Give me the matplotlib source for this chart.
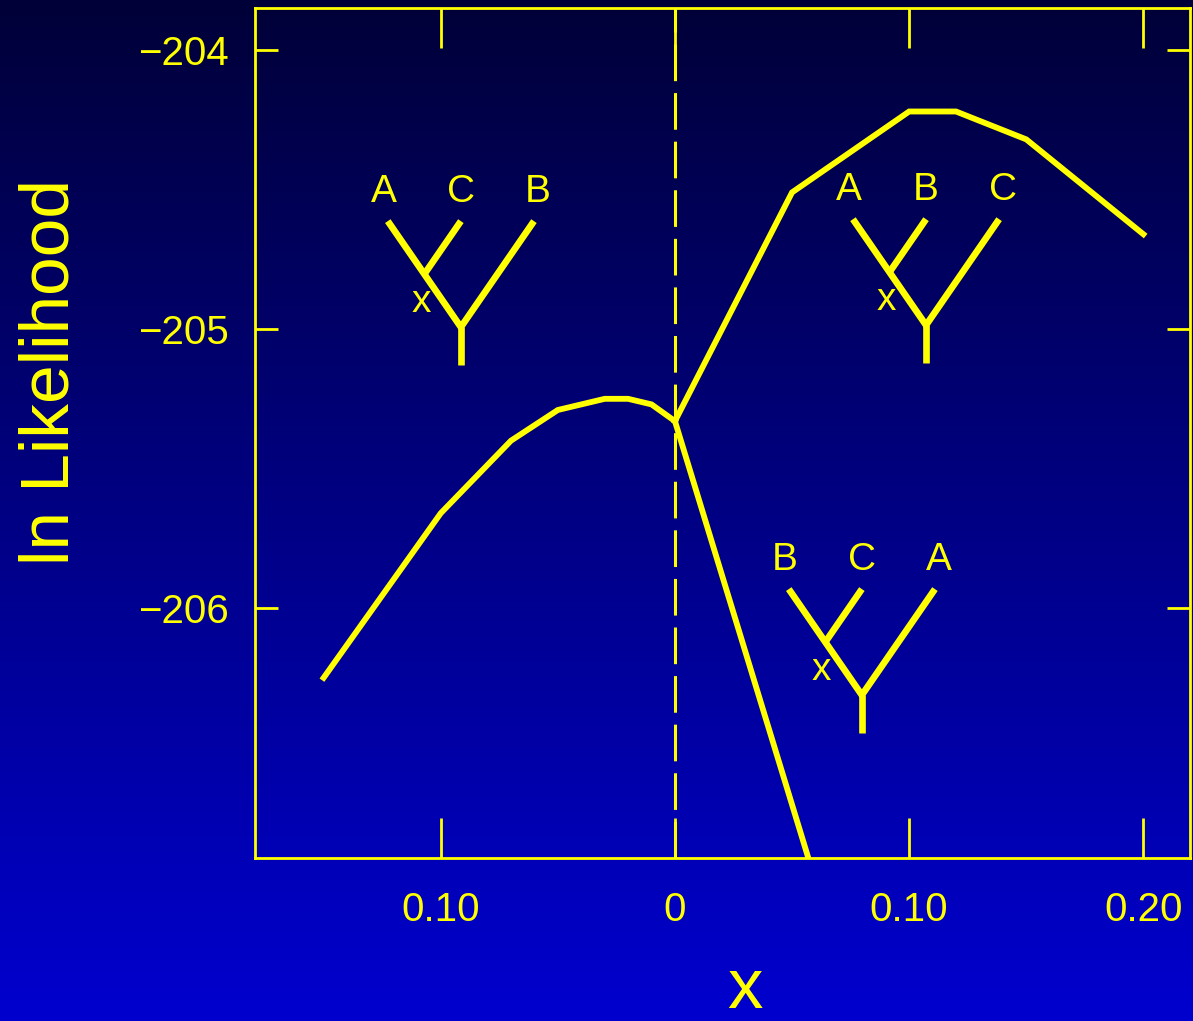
import numpy as np
import matplotlib
matplotlib.use("Agg")
import matplotlib.pyplot as plt

plt.rcParams['font.family'] = ['Liberation Sans', 'DejaVu Sans']

# data
left_x = [-0.15, -0.10, -0.07, -0.05, -0.03, -0.02, -0.01, 0.0]
left_y = [-206.25, -205.66, -205.40, -205.29, -205.25, -205.25, -205.27, -205.33]
upper_x = [0.0, 0.05, 0.10, 0.12, 0.15, 0.20]
upper_y = [-205.33, -204.51, -204.22, -204.22, -204.32, -204.66]
lower_x = [0.0, 0.06]
lower_y = [-205.33, -206.98]

xticks = [-0.10, 0.0, 0.10, 0.20]
xticklabels = ["0.10", "0", "0.10", "0.20"]
yticks = [-206, -205, -204]
yticklabels = ["\u2212206", "\u2212205", "\u2212204"]

# tree roots and leaf order
tree_roots = [(-0.0914, -204.993), (0.1072, -204.986), (0.0798, -206.312)]
tree_leaves = [("A", "C", "B"), ("A", "B", "C"), ("B", "C", "A")]

yellow = "#ffff00"

fig = plt.figure(figsize=(11.93, 10.21), dpi=100)

# gradient background
bg = fig.add_axes([0, 0, 1, 1], zorder=0)
grad = np.linspace(0, 1, 256).reshape(-1, 1)
img = np.zeros((256, 1, 3))
img[:, 0, 2] = 0.22 + (0.81 - 0.22) * grad[:, 0]
bg.imshow(img, aspect="auto", extent=[0, 1, 0, 1], origin="upper")
bg.axis("off")

ax = fig.add_axes([255 / 1193, 1 - 858 / 1021, 935 / 1193, 850 / 1021], zorder=1)
ax.set_facecolor("none")

ax.plot(left_x, left_y, color=yellow, lw=4.2, solid_joinstyle="miter")
ax.plot(upper_x, upper_y, color=yellow, lw=4.2, solid_joinstyle="miter")
ax.plot(lower_x, lower_y, color=yellow, lw=4.2, solid_joinstyle="miter")
ax.axvline(0, color=yellow, lw=2.2, dashes=(12, 3.9))

# little trees
for (rx, ry), (l1, l2, l3) in zip(tree_roots, tree_leaves):
    tw, th = 0.0312, 0.380
    ax.plot([rx - tw, rx, rx + tw], [ry + th, ry, ry + th], color=yellow, lw=4.8,
            solid_joinstyle="miter", solid_capstyle="butt")
    ax.plot([rx - tw / 2, rx], [ry + th / 2, ry + th], color=yellow, lw=4.8,
            solid_capstyle="butt")
    ax.plot([rx, rx], [ry, ry - 0.136], color=yellow, lw=4.8, solid_capstyle="butt")
    for dx, lab in zip([-0.033, 0.0, 0.033], [l1, l2, l3]):
        ax.text(rx + dx, ry + 0.484, lab, color=yellow, fontsize=28,
                ha="center", va="center")
    ax.text(rx - 0.0171, ry + 0.09, "x", color=yellow, fontsize=28,
            ha="center", va="center")

ax.set_xlim(-0.1793, 0.2199)
ax.set_ylim(-206.896, -203.849)

for s in ax.spines.values():
    s.set_color(yellow)
    s.set_linewidth(2.0)

ax.set_xticks(xticks)
ax.set_xticklabels(xticklabels)
ax.set_yticks(yticks)
ax.set_yticklabels(yticklabels)
ax.tick_params(axis="x", direction="in", length=29, width=2, color=yellow,
               labelcolor=yellow, labelsize=29, pad=24, top=True)
ax.tick_params(axis="y", direction="in", length=16.5, width=2, color=yellow,
               labelcolor=yellow, labelsize=29, pad=19, right=True)

fig.text(51 / 1193, 1 - 372 / 1021, "ln Likelihood", color=yellow, fontsize=50,
         rotation=90, ha="center", va="center")
fig.text(745 / 1193, 1 - 990 / 1021, "x", color=yellow, fontsize=51,
         ha="center", va="center")

fig.savefig("out.png", dpi=100)
